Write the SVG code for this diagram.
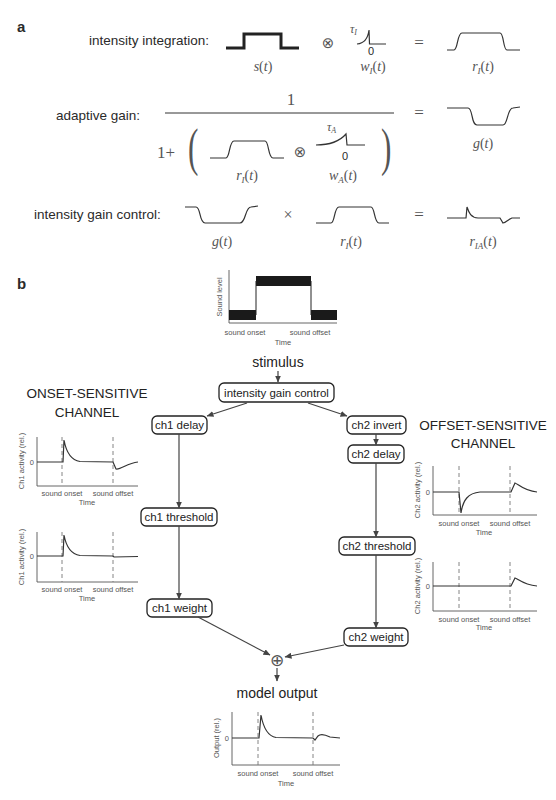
<svg xmlns="http://www.w3.org/2000/svg" width="556" height="800" viewBox="0 0 556 800">
<defs>
<style>
.t{font-family:"Liberation Sans",Arial,sans-serif;fill:#2a2a2a}
.lab{font-size:13.5px}
.m{font-family:"Liberation Serif","Times New Roman",serif;fill:#555}
.mi{font-style:italic}
.op{font-family:"DejaVu Sans",sans-serif;fill:#555}
.sig{fill:none;stroke:#333;stroke-width:1.2}
.ax{fill:none;stroke:#555;stroke-width:0.9}
.dash{fill:none;stroke:#777;stroke-width:0.9;stroke-dasharray:4,3}
.tr{fill:none;stroke:#333;stroke-width:1.2}
.sm{font-family:"Liberation Sans",Arial,sans-serif;font-size:7.5px;fill:#555}
.box{fill:#fff;stroke:#222;stroke-width:1.3}
.nt{font-family:"Liberation Sans",Arial,sans-serif;font-size:11.5px;fill:#222;text-anchor:middle}
.big{font-family:"Liberation Sans",Arial,sans-serif;font-size:14px;fill:#222;text-anchor:middle}
.ttl{font-family:"Liberation Sans",Arial,sans-serif;font-size:13.5px;fill:#222;text-anchor:middle}
.con{fill:none;stroke:#444;stroke-width:1.2;marker-end:url(#ah)}
</style>
<marker id="ah" markerUnits="userSpaceOnUse" markerWidth="7" markerHeight="6" refX="6.5" refY="3" orient="auto">
<path d="M0,0 L7,3 L0,6 z" fill="#444"/>
</marker>
</defs>

<!-- Panel a -->
<text class="t" x="17" y="32" font-size="15" font-weight="bold">a</text>

<g id="row-intensity-integration">
<text class="t lab" x="89" y="45">intensity integration:</text>
<path d="M226,48 L244,48 L244,34 L281,34 L281,48 L299,48" fill="none" stroke="#222" stroke-width="3"/>
<text class="m" x="263" y="71" font-size="14" text-anchor="middle"><tspan class="mi">s</tspan>(<tspan class="mi">t</tspan>)</text>
<text class="op" x="328" y="48" font-size="15" text-anchor="middle">⊗</text>
<text class="m" x="350" y="33" font-size="12"><tspan class="mi">τ</tspan><tspan class="mi" font-size="8" dy="2">I</tspan></text>
<path class="sig" d="M357,44 C364,43.5 368,38 369,30 L369.5,44 L386,44"/>
<text class="t" x="371" y="55" font-size="11" text-anchor="middle">0</text>
<text class="m" x="373" y="71" font-size="14" text-anchor="middle"><tspan class="mi">w</tspan><tspan class="mi" font-size="9" dy="3">I</tspan><tspan dy="-3">(</tspan><tspan class="mi">t</tspan>)</text>
<text class="m" x="419" y="48" font-size="17" text-anchor="middle">=</text>
<path class="sig" d="M447,50 L454,50 C458,50 457,33 462,33 L500,33 C504,33 503,50 507,50 L520,50"/>
<text class="m" x="483" y="71" font-size="14" text-anchor="middle"><tspan class="mi">r</tspan><tspan class="mi" font-size="9" dy="3">I</tspan><tspan dy="-3">(</tspan><tspan class="mi">t</tspan>)</text>
</g>

<g id="row-adaptive-gain">
<text class="t lab" x="56" y="120">adaptive gain:</text>
<text class="m" x="291" y="105" font-size="17" text-anchor="middle" fill="#333">1</text>
<line x1="165" y1="113" x2="394" y2="113" stroke="#333" stroke-width="1"/>
<text class="m" x="157" y="158" font-size="17" fill="#333">1+</text>
<text class="m" transform="translate(188,165) scale(0.6,1)" font-size="52" fill="#333">(</text>
<path class="sig" d="M210,158 L226,158 C230,158 229,141 234,141 L265,141 C269,141 268,158 273,158 L284,158"/>
<text class="m" x="247" y="180" font-size="14" text-anchor="middle"><tspan class="mi">r</tspan><tspan class="mi" font-size="9" dy="3">I</tspan><tspan dy="-3">(</tspan><tspan class="mi">t</tspan>)</text>
<text class="op" x="300" y="157" font-size="15" text-anchor="middle">⊗</text>
<text class="m" x="327" y="131" font-size="12"><tspan class="mi">τ</tspan><tspan class="mi" font-size="8" dy="2">A</tspan></text>
<path class="sig" d="M316,145 C330,145 340,141 346,134 L347,145 L365,145"/>
<text class="t" x="345" y="160" font-size="11" text-anchor="middle">0</text>
<text class="m" x="343" y="180" font-size="14" text-anchor="middle"><tspan class="mi">w</tspan><tspan class="mi" font-size="9" dy="3">A</tspan><tspan dy="-3">(</tspan><tspan class="mi">t</tspan>)</text>
<text class="m" transform="translate(381,165) scale(0.6,1)" font-size="52" fill="#333">)</text>
<text class="m" x="419" y="118" font-size="17" text-anchor="middle">=</text>
<path class="sig" d="M447,108 L468,108 C473,108 471,125 477,125 L503,125 C508,125 507,108 513,108 L520,107"/>
<text class="m" x="483" y="148" font-size="14" text-anchor="middle"><tspan class="mi">g</tspan>(<tspan class="mi">t</tspan>)</text>
</g>

<g id="row-intensity-gain-control">
<text class="t lab" x="34" y="219">intensity gain control:</text>
<path class="sig" d="M185,207 L196,207 C201,207 199,223 205,223 L240,223 C246,223 245,207 251,207 L258,206"/>
<text class="m" x="222" y="246" font-size="14" text-anchor="middle"><tspan class="mi">g</tspan>(<tspan class="mi">t</tspan>)</text>
<text class="m" x="288" y="220" font-size="16" text-anchor="middle">×</text>
<path class="sig" d="M316,223 L331,223 C335,223 334,207 339,207 L371,207 C375,207 374,223 379,223 L389,223"/>
<text class="m" x="351" y="246" font-size="14" text-anchor="middle"><tspan class="mi">r</tspan><tspan class="mi" font-size="9" dy="3">I</tspan><tspan dy="-3">(</tspan><tspan class="mi">t</tspan>)</text>
<text class="m" x="419" y="220" font-size="17" text-anchor="middle">=</text>
<path class="sig" d="M447,218 L466,218 L467,207 C469,213 471,217.5 478,218 L500,218 L503,223 C506,222.5 508,219.5 512,218 L520,218"/>
<text class="m" x="483" y="246" font-size="14" text-anchor="middle"><tspan class="mi">r</tspan><tspan class="mi" font-size="9" dy="3">IA</tspan><tspan dy="-3">(</tspan><tspan class="mi">t</tspan>)</text>
</g>

<!-- Panel b -->
<text class="t" x="17" y="289" font-size="15" font-weight="bold">b</text>

<g id="stimulus-plot">
<path class="ax" d="M229,270 L229,323 L337,323"/>
<rect x="229" y="310" width="27" height="10" fill="#1a1a1a"/>
<rect x="256" y="276" width="55" height="10" fill="#1a1a1a"/>
<rect x="311" y="310" width="26" height="10" fill="#1a1a1a"/>
<line x1="256" y1="281" x2="256" y2="315" stroke="#222" stroke-width="1"/>
<line x1="311" y1="281" x2="311" y2="315" stroke="#222" stroke-width="1"/>
<text class="sm" transform="translate(222,297) rotate(-90)" text-anchor="middle">Sound level</text>
<text class="sm" x="245" y="335" text-anchor="middle">sound onset</text>
<text class="sm" x="310" y="335" text-anchor="middle">sound offset</text>
<text class="sm" x="283" y="345" text-anchor="middle">Time</text>
</g>

<g id="stimulus"><text class="big" x="278" y="367">stimulus</text></g>

<g id="intensity-gain-control"><rect class="box" x="219" y="383" width="115" height="19" rx="5"/><text class="nt" x="276.5" y="397">intensity gain control</text></g>
<g id="ch1-delay"><rect class="box" x="152" y="416" width="55" height="18" rx="5"/><text class="nt" x="179.5" y="429">ch1 delay</text></g>
<g id="ch2-invert"><rect class="box" x="347" y="416" width="59" height="18" rx="5"/><text class="nt" x="376.5" y="429">ch2 invert</text></g>
<g id="ch2-delay"><rect class="box" x="348" y="445" width="56" height="18" rx="5"/><text class="nt" x="376" y="458">ch2 delay</text></g>
<g id="ch1-threshold"><rect class="box" x="141" y="508" width="76" height="18" rx="5"/><text class="nt" x="179" y="521">ch1 threshold</text></g>
<g id="ch2-threshold"><rect class="box" x="339" y="537" width="76" height="18" rx="5"/><text class="nt" x="377" y="550">ch2 threshold</text></g>
<g id="ch1-weight"><rect class="box" x="147" y="599" width="65" height="18" rx="5"/><text class="nt" x="179.5" y="612">ch1 weight</text></g>
<g id="ch2-weight"><rect class="box" x="344" y="628" width="64" height="18" rx="5"/><text class="nt" x="376" y="641">ch2 weight</text></g>
<g id="sum"><text class="op" x="277" y="666" font-size="17" text-anchor="middle" fill="#777">⊕</text></g>
<g id="model-output"><text class="big" x="277" y="698">model output</text></g>

<g id="connectors">
<line class="con" x1="278" y1="371" x2="278" y2="382"/>
<line class="con" x1="247" y1="403" x2="207" y2="416"/>
<line class="con" x1="308" y1="403" x2="347" y2="416"/>
<line class="con" x1="179" y1="434" x2="179" y2="508"/>
<line class="con" x1="179" y1="526" x2="179" y2="599"/>
<line class="con" x1="376" y1="434" x2="376" y2="445"/>
<line class="con" x1="376" y1="463" x2="376" y2="537"/>
<line class="con" x1="376" y1="555" x2="376" y2="628"/>
<line class="con" x1="198" y1="617" x2="270" y2="655"/>
<line class="con" x1="344" y1="645" x2="285" y2="657"/>
<line class="con" x1="277" y1="668" x2="277" y2="681"/>
</g>

<g id="onset-title">
<text class="ttl" x="87" y="398">ONSET-SENSITIVE</text>
<text class="ttl" x="87" y="417">CHANNEL</text>
</g>
<g id="offset-title">
<text class="ttl" x="483" y="430">OFFSET-SENSITIVE</text>
<text class="ttl" x="483" y="448">CHANNEL</text>
</g>

<g id="ch1-plot-1">
<path class="ax" d="M37,437 L37,486 L138,486"/>
<line class="dash" x1="62" y1="437" x2="62" y2="486"/>
<line class="dash" x1="113" y1="437" x2="113" y2="486"/>
<path class="tr" d="M37,462 L63,462 L64,440 C66,451 70,460 80,461.5 L113,462 L116,469 C121,470 127,463 138,462"/>
<text class="sm" x="34" y="465" text-anchor="end">0</text>
<text class="sm" transform="translate(24,461) rotate(-90)" text-anchor="middle">Ch1 activity (rel.)</text>
<text class="sm" x="62" y="496" text-anchor="middle">sound onset</text>
<text class="sm" x="113" y="496" text-anchor="middle">sound offset</text>
<text class="sm" x="87" y="505" text-anchor="middle">Time</text>
</g>

<g id="ch1-plot-2">
<path class="ax" d="M37,532 L37,582 L138,582"/>
<line class="dash" x1="62" y1="532" x2="62" y2="582"/>
<line class="dash" x1="113" y1="532" x2="113" y2="582"/>
<path class="tr" d="M37,556 L63,556 L64,535 C66,546 70,554 80,555.5 L113,556 L114,557 L138,556.5"/>
<text class="sm" x="34" y="559" text-anchor="end">0</text>
<text class="sm" transform="translate(24,557) rotate(-90)" text-anchor="middle">Ch1 activity (rel.)</text>
<text class="sm" x="62" y="592" text-anchor="middle">sound onset</text>
<text class="sm" x="113" y="592" text-anchor="middle">sound offset</text>
<text class="sm" x="87" y="601" text-anchor="middle">Time</text>
</g>

<g id="ch2-plot-1">
<path class="ax" d="M433,466 L433,515 L537,515"/>
<line class="dash" x1="459" y1="466" x2="459" y2="515"/>
<line class="dash" x1="510" y1="466" x2="510" y2="515"/>
<path class="tr" d="M433,492 L459,492 L461,513 C463,500 468,493 480,492 L511,492 L515,483 C518,484 524,491 537,492"/>
<text class="sm" x="430" y="495" text-anchor="end">0</text>
<text class="sm" transform="translate(420,490) rotate(-90)" text-anchor="middle">Ch2 activity (rel.)</text>
<text class="sm" x="459" y="526" text-anchor="middle">sound onset</text>
<text class="sm" x="510" y="526" text-anchor="middle">sound offset</text>
<text class="sm" x="484" y="535" text-anchor="middle">Time</text>
</g>

<g id="ch2-plot-2">
<path class="ax" d="M433,562 L433,611 L537,611"/>
<line class="dash" x1="459" y1="562" x2="459" y2="611"/>
<line class="dash" x1="510" y1="562" x2="510" y2="611"/>
<path class="tr" d="M433,586 L511,586 L515,578 C518,579 524,585 537,586"/>
<text class="sm" x="430" y="589" text-anchor="end">0</text>
<text class="sm" transform="translate(420,586) rotate(-90)" text-anchor="middle">Ch2 activity (rel.)</text>
<text class="sm" x="459" y="622" text-anchor="middle">sound onset</text>
<text class="sm" x="510" y="622" text-anchor="middle">sound offset</text>
<text class="sm" x="484" y="630" text-anchor="middle">Time</text>
</g>

<g id="output-plot">
<path class="ax" d="M232,712 L232,765 L340,765"/>
<line class="dash" x1="258" y1="712" x2="258" y2="765"/>
<line class="dash" x1="313" y1="712" x2="313" y2="765"/>
<path class="tr" d="M232,738 L259,738 L261,715 C263,726 267,736 276,737.5 L313,738 L315,740 L318,736 C320,734 324,734 330,737 L340,738"/>
<text class="sm" x="229" y="741" text-anchor="end">0</text>
<text class="sm" transform="translate(219,738) rotate(-90)" text-anchor="middle">Output (rel.)</text>
<text class="sm" x="258" y="776" text-anchor="middle">sound onset</text>
<text class="sm" x="313" y="776" text-anchor="middle">sound offset</text>
<text class="sm" x="286" y="786" text-anchor="middle">Time</text>
</g>
</svg>
